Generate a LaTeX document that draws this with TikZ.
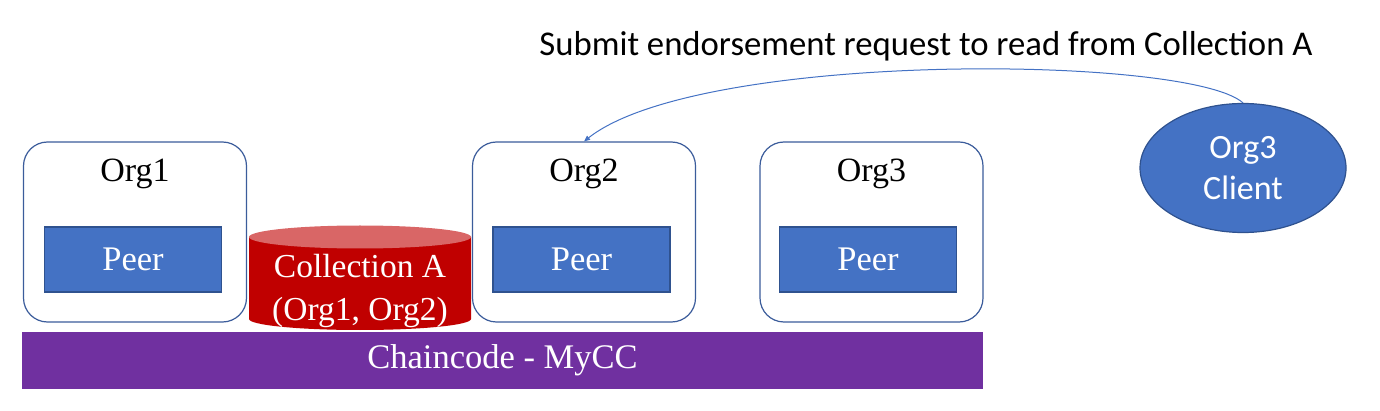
\documentclass[tikz,border=0pt]{standalone}
\usepackage{fontspec}
\setmainfont{Liberation Serif}
\newfontfamily\calfont{Carlito}
\usetikzlibrary{shapes.geometric,arrows.meta}
\definecolor{peerblue}{HTML}{4472C4}
\definecolor{darkblue}{HTML}{2F528F}
\definecolor{boxline}{HTML}{3B5C9B}
\definecolor{chainpurple}{HTML}{7030A0}
\definecolor{collred}{HTML}{C00000}
\definecolor{colltop}{HTML}{D96666}
\tikzset{
  orgbox/.style={draw=boxline, line width=1.2pt, rounded corners=24pt, fill=white, minimum width=223pt, minimum height=180pt, inner sep=0pt},
  peerbox/.style={draw=darkblue, line width=1.2pt, fill=peerblue, minimum width=177pt, minimum height=65pt, inner sep=0pt, text=white, font=\fontsize{34.5}{40}\selectfont},
  orglabel/.style={anchor=base, font=\fontsize{34}{40}\selectfont, inner sep=0pt},
}
\begin{document}
\begin{tikzpicture}[x=1pt,y=-1pt]
\useasboundingbox (0,0) rectangle (1380,411);
% org boxes
\node[orgbox] (org1) at (135,232) {};
\node[orgbox] (org2) at (584,232) {};
\node[orgbox] (org3) at (871.5,232) {};
\node[orglabel] (org1l) at (135,182) {Org1};
\node[orglabel] (org2l) at (584,182) {Org2};
\node[orglabel] (org3l) at (871.5,182) {Org3};
% peers
\node[peerbox] (peer1) at (133,259.5) {Peer};
\node[peerbox] (peer2) at (581.5,259.5) {Peer};
\node[peerbox] (peer3) at (868,259.5) {Peer};
% cylinder
\fill[collred] (249,237) -- (249,319) arc[x radius=111, y radius=11, start angle=180, end angle=0] -- (471,237) -- cycle;
\fill[colltop] (360,237) ellipse [x radius=111, y radius=11.5];
\node[align=center, text=white, font=\fontsize{33.5}{43}\selectfont, anchor=base, inner sep=0pt] (coll) at (360,320) {Collection A\\(Org1, Org2)};
% chaincode bar
\node[fill=chainpurple, minimum width=961pt, minimum height=57pt, inner sep=0pt, text=white, font=\fontsize{34.5}{40}\selectfont] (cc) at (502.5,360.5) {Chaincode - MyCC};
% client
\node[ellipse, draw=darkblue, line width=1.2pt, fill=peerblue, minimum width=206pt, minimum height=129pt, inner sep=0pt, text=white, align=center, font=\calfont\fontsize{34}{41}\selectfont] (client) at (1243,168) {Org3\\Client};
% title
\node[anchor=base, font=\calfont\fontsize{34.7}{41}\selectfont, inner sep=0pt] (title) at (926,56) {Submit endorsement request to read from Collection A};
% arrow
\draw[peerblue, line width=1pt, -{Triangle[width=5pt,length=6pt]}] (client.north) .. controls (1190,55) and (700,50) .. (org2.north);
\end{tikzpicture}
\end{document}
